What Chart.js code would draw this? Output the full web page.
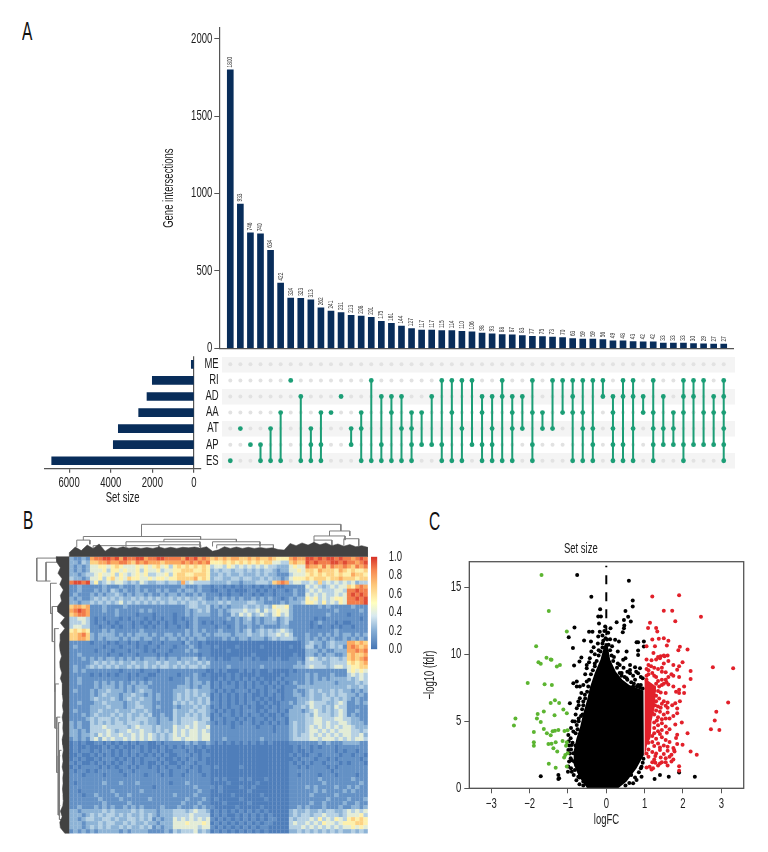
<!DOCTYPE html>
<html>
<head>
<meta charset="utf-8">
<title>Gene intersections</title>
<script src="https://cdn.jsdelivr.net/npm/chart.js@4/dist/chart.umd.js"></script>
<style>
  html, body { margin: 0; padding: 0; background: #fff; }
  body { position: relative; width: 768px; height: 852px; overflow: hidden; }
  canvas { position: absolute; display: block; }
  .panel { position: absolute; font: 25px "Liberation Sans", sans-serif; color: #111; line-height: 1; transform: scaleX(.62); transform-origin: left top; }
</style>
</head>
<body>
<div class="panel" style="left:22px;top:19px">A</div>
<div class="panel" style="left:22.5px;top:508px">B</div>
<div class="panel" style="left:429px;top:509px">C</div>

<canvas id="barChart" width="600" height="340" style="left:150px;top:20px"></canvas>
<canvas id="matrixChart" width="600" height="122" style="left:150px;top:350px"></canvas>
<canvas id="setChart" width="175" height="160" style="left:30px;top:350px"></canvas>
<canvas id="heatChart" width="338" height="314" style="left:30px;top:520px"></canvas>
<canvas id="keyChart" width="40" height="112" style="left:371px;top:551px"></canvas>
<canvas id="volcanoChart" width="342" height="300" style="left:418px;top:535px"></canvas>

<script>
// ─── Data: upset plot ─────────────────────────────────────

const intersectionCounts = [1800, 933, 746, 740, 634, 422, 324, 323, 313, 262, 241, 231, 213, 208, 201, 175, 161, 144, 127, 117, 117, 115, 114, 110, 106,
  98, 93, 88, 87, 83, 77, 75, 73, 70, 63, 59, 59, 56, 49, 48, 43, 42, 42, 33, 33, 33, 30, 29, 27, 27];
const countTicks = [0, 500, 1000, 1500, 2000];
const rowNames = ['ME', 'RI', 'AD', 'AA', 'AT', 'AP', 'ES'];
const setSizes = [130, 2003, 2258, 2658, 3636, 3877, 6836];
const setTicks = [0, 2000, 4000, 6000];
const intersectionSets = [
  ['ES'], ['AT'], ['AP'], ['AP', 'ES'], ['AT', 'ES'], ['AA', 'ES'], ['RI'], ['AD', 'ES'], ['AT', 'AP', 'ES'], ['AA', 'AP', 'ES'],
  ['AA'], ['AD'], ['AT', 'AP'], ['AA', 'AT', 'ES'], ['RI', 'ES'], ['AD', 'AP', 'ES'], ['AD', 'AA', 'ES'], ['AD', 'AT', 'ES'], ['AA', 'AT', 'AP', 'ES'], ['AA', 'AP'],
  ['AD', 'AP'], ['RI', 'AP', 'ES'], ['RI', 'AA', 'ES'], ['RI', 'AT', 'ES'], ['RI', 'AP'], ['AD', 'AA', 'AP', 'ES'], ['AD', 'AT', 'AP', 'ES'], ['RI', 'AD', 'ES'], ['AD', 'AA', 'AT', 'ES'], ['AD', 'AT'],
  ['RI', 'AA', 'AP', 'ES'], ['AA', 'AT'], ['RI', 'AT'], ['RI', 'AA'], ['RI', 'AD', 'AA', 'ES'], ['RI', 'AA', 'AT', 'ES'], ['RI', 'AT', 'AP', 'ES'], ['RI', 'AD'], ['AD', 'AA', 'AT', 'AP', 'ES'], ['RI', 'AD', 'AP', 'ES'],
  ['RI', 'AD', 'AT', 'ES'], ['AD', 'AA'], ['RI', 'AA', 'AT', 'AP', 'ES'], ['AD', 'AT', 'AP'], ['AA', 'AT', 'AP'], ['RI', 'AD', 'AA', 'AP', 'ES'], ['RI', 'AD', 'AP'], ['RI', 'AA', 'AP'], ['AD', 'AA', 'AP'], ['RI', 'AD', 'AA', 'AT', 'AP', 'ES']
];

// ─── Data: heatmap (one digit per cell, tenths of the 0-1 scale) ──

const heatRows = [
  '21121 788998979889978 89988 887989787 676767766767667 6555 7877 9989899898 87898',
  '22132 667787788768787 77677 778787878 555656565656566 4433 6766 9898889989 88789',
  '21212 445545654445454 56453 565656565 344354343434343 3222 4544 8776868778 76878',
  '21212 444535545445354 45344 556665565 232332332323233 2122 4454 6657666576 56556',
  '22123 345445354345453 34453 566556665 223232232223232 2111 3444 5656566565 57665',
  '32212 445356454655445 45545 566667565 233223323322323 2212 4555 6566656676 66566',
  '89989 352343443232432 23323 327343333 222232212223332 6787 3443 3436343434 34233',
  '11211 111211121112111 11111 112111211 011010101101010 1001 1111 4343234344 65787',
  '11211 121213212112121 12121 121221211 001101000110101 0110 1211 3434333443 88988',
  '12111 212122321212212 11212 212112121 110101101101011 0111 1211 4343433434 89898',
  '21211 232323232232323 23223 232322321 121212121121212 1101 2122 5453434554 88989',
  '22122 323232342323232 32323 323233232 223232222332211 1121 2223 5543534354 88889',
  '67767 111211112111111 11111 111233223 121212223223232 5445 2111 1112121111 12111',
  '78987 111211211111212 11111 111212323 112123334334243 4544 2111 1111111211 11121',
  '67887 111111211110111 01111 011212222 112113243423432 4534 2111 1111121111 01111',
  '33443 101011101011101 01011 010112111 111121212312122 3123 2111 1101011111 11101',
  '33343 101101011101010 10101 011012101 011011212212122 2123 1111 1012111010 01111',
  '34433 110110101101101 01101 101012111 101101211211211 1122 1111 1010110101 10111',
  '56565 111212111111211 11111 111212121 112111212312323 2343 2111 1111111211 11111',
  '66786 212222121212221 21122 121212212 122221222322323 3434 3111 2112121212 21212',
  '66776 212122212122122 11212 212121221 111212122122212 3233 3211 2121212112 12121',
  '11111 011101011010110 11011 110211010 000000000000000 0000 0001 2322123222 77676',
  '12111 111011101110101 10111 011121011 010000100000100 0000 1001 3312123231 78767',
  '11111 101110111011101 01110 111212111 000010000000000 0000 0000 2221211222 77878',
  '11211 111101101110111 10101 111111011 000000000010000 0000 0100 2212122112 67667',
  '11121 212122121212122 21212 212223121 101001101101001 0100 1110 3432323323 67678',
  '11111 232323232232232 23232 232322323 111111111111111 1111 1121 3333223333 56567',
  '12112 323232322323232 32332 323233232 111121111111211 1111 1222 3433323443 45566',
  '12121 111111101111011 10111 111111110 010100010101001 0000 1011 1111111111 45454',
  '11111 010101011010110 01111 101112101 000010100001000 0010 1111 2121112111 34343',
  '11211 111111111011101 11110 111212111 001010101010100 0101 1111 2121212222 32343',
  '11211 121212121121212 11111 111212212 010101010101010 1010 1211 2122222122 22323',
  '11111 121222121212221 11111 122212122 010111010101101 0101 1122 2222222222 32232',
  '12111 212232221212322 11111 222323222 101010111010101 1001 1211 2323223232 21212',
  '11111 212322212232212 12111 232323232 010101010100101 0101 1221 2322323233 22121',
  '11111 232223212322322 12111 232322323 010101010101010 0101 1122 2322332323 21211',
  '11211 122322221223222 11111 323232323 110101010110101 0011 2122 3433322343 11212',
  '11111 222232221223322 12111 212223232 010101101010010 1011 1223 2433232433 11111',
  '12111 223222322232232 11111 322232332 101010101110101 1010 2221 2343232343 11211',
  '11121 232223232322323 11211 322323232 010110101011010 0101 2222 3243332343 12111',
  '11112 323332322323332 21221 323333233 011011010101101 0110 2222 3344333443 32211',
  '21211 323232332333232 21222 323334332 101010101101010 1010 2322 3344343344 32221',
  '21211 333433333234333 23222 433434334 111110111110111 0111 2322 3434343434 43222',
  '22121 333343233433433 23232 434344343 111111111111111 0111 2322 3443434344 43323',
  '22122 324343343343434 32323 434344344 111111111111111 1111 2323 3434343434 43342',
  '12121 342434334343434 32323 443444344 111211111111211 1111 2333 3443444343 43443',
  '01010 011010101010110 01011 111212112 101010101010101 0000 1111 1112121112 22211',
  '01001 000101010001010 00101 010110101 000000000000000 0000 0101 1010111011 11111',
  '01011 010110101011010 10100 111010010 000000000000000 0000 0100 1011111010 11011',
  '00100 101010101010101 01010 011101011 000000000000000 0000 1010 0110111101 10110',
  '01010 010111010101011 10100 101011010 000000000000000 0000 0101 1101101011 11101',
  '10100 101010101101010 01010 010110110 000000000000000 0000 1010 1011011101 01110',
  '01011 110101011010110 10101 101101011 010000010000000 0000 1101 0111101011 11111',
  '10110 101111101101111 10110 111011011 000000000000000 0000 1111 1111110111 11111',
  '11101 111011110111101 11010 110111101 000000000000000 0000 1101 1110111011 11011',
  '11111 111111111111111 11111 111111111 010100010100010 0000 1111 1112111111 12111',
  '10111 111211121112111 11110 111211111 000010000001000 0000 1111 1111211111 11121',
  '11111 111111111111111 01111 111112111 101000010010000 0000 1111 2121111211 21211',
  '11011 111112111111211 11111 111111211 001000000100000 0000 1111 1121211112 12111',
  '11101 121111211211111 11111 211112111 000001000000100 0000 1111 1211111211 11111',
  '11111 112111121111112 11111 111211121 010000010000010 0000 1111 1111121111 21112',
  '11111 111211111211111 11111 112111211 000100000100000 0000 1111 1211211112 11211',
  '11211 121212112121211 11211 121112121 100000100000100 0000 1121 2111211121 12212',
  '22122 222323222232322 21222 333234332 010101010101010 0000 2322 3223233223 43434',
  '22212 323233232322323 21222 333343333 010100101010101 0000 2323 3233433323 44453',
  '22123 322332322332323 12122 434343434 101010101010101 1000 3233 3435343543 56565',
  '22212 223233223232232 21222 444544454 010101010101011 0000 3433 4343544345 55665',
  '22212 323232232322323 12122 444444344 101010101010110 0000 3334 3434343434 45454',
  '12121 212222212122221 11121 323334232 010101010101010 0000 2232 3232323232 23232'
];
const heatPalette = ['#4f7eba', '#6491c5', '#8db3d6', '#b5d0e3', '#e3ecd6', '#fdf0ac', '#fdd283', '#fbaa61', '#f27d4b', '#df4c35'];
const keyTicks = [0, 0.2, 0.4, 0.6, 0.8, 1];
const keyRange = [0, 1];
const keyStops = [[0, '#4575b4'], [0.2, '#86aed5'], [0.36, '#d8e9f0'], [0.5, '#ffffbf'], [0.7, '#fdc679'], [0.85, '#f78a53'], [1, '#d73027']];

// dendrogram merges: [from, to, height, height of first child, height of second child]
const topMerges = [
  [24.2, 91, 11.7, 7.3, 9.3], [4.7, 44, 7.3, 6, 6.3], [2.5, 6.9, 6, 3.5, 4.5], [31.7, 56, 6.3, 5.4, 5.4],
  [19, 43.8, 5.4, 3.5, 3.5], [8, 30, 4, 2.5, 2.5], [30, 44, 4.3, 2.5, 2.5], [48, 63.9, 5.4, 3.7, 3.7],
  [49.4, 68.4, 4.3, 3, 3], [87.2, 94, 9.3, 7.5, 7.5], [82, 92.4, 7.5, 6, 6], [82, 88, 6, 3.5, 3.5], [92, 97, 6.5, 4, 4]
];
const leftMerges = [
  [0.5, 8.8, 10.9, 4.2, 7.8], [2, 8.8, 7.8, 4.2, 6.3], [9.6, 20.5, 6.3, 4.2, 5.7], [18, 30.7, 5.7, 4, 5],
  [26, 48.8, 5, 3.5, 4.8], [46, 62, 4.8, 3.5, 4], [58, 78, 4.2, 3, 3.5], [72, 93.4, 3.7, 3, 3],
  [60, 90, 3.6, 3, 3], [70, 95, 3.3, 2.6, 2.6]
];
const topBandEdge = [1.5, 3.5, 2.2, 4.2, 3, 4.6, 2, 3.4, 3, 3.6, 3.1, 3.4, 3, 3.3, 3, 3.5, 3, 3.4, 3, 3.4, 3.2, 3.5, 3.1, 3.6, 2, 2.5, 3.6, 3, 3.5, 3, 3.4, 3, 3.3, 3, 3.2, 2.6, 2.4, 4.8, 4, 5, 4.2, 5.2, 4.3, 5, 4, 4.6, 3.8, 4.4, 3.6, 4, 3.4];
const leftBandEdge = [4.4, 4.2, 3, 3.8, 2.4, 3.2, 2, 3, 2.6, 4, 3.8, 1.5, 3, 1.5, 3, 3, 3.3, 3.1, 2.6, 3.2, 3.1, 2.5, 3, 2.3, 2.2, 2.4, 2.1, 2.3, 2, 2.4, 2.1, 2.2, 2, 2.4, 2.2, 2, 2.3, 2.1, 2.4, 2, 2.2, 2.1, 2.3, 2.1, 2, 2.2, 3, 2.4, 3.2, 3, 1.5];

// ─── Data: volcano plot ───────────────────────────────────

const volcanoXTicks = [-3, -2, -1, 0, 1, 2, 3];
const volcanoYTicks = [0, 5, 10, 15];
const greenPoints = [[-1.69,15.9],[-1.5,13.23],[-1.03,11.69],[-1.83,10.6],[-1.56,9.73],[-1.45,9.6],[-1.77,9.4],[-1.71,9.28],[-1.43,9.58],[-1.21,9.2],[-1.29,9.08],[-2.05,7.86],[-1.61,7.76],[-1.42,7.71],[-1.34,6.57],[-1.45,6.37],[-1.23,6.37],[-1.12,5.87],[-1.03,5.6],[-1.63,5.72],[-1.35,5.45],[-1.79,5.55],[-2.37,5.2],[-1.81,5.2],[-1.71,4.95],[-2.41,4.68],[-1.89,4.2],[-1.63,4.43],[-1.55,4.1],[-1.4,4.25],[-1.34,4.3],[-1.25,4.35],[-1.09,4.28],[-1.01,4.33],[-1.45,3.96],[-1.14,3.53],[-1.03,3.43],[-1.05,3.18],[-1.89,3.43],[-1.89,3.18],[-1.51,3.31],[-1.43,3.33],[-1.32,3.43],[-1.38,2.99],[-1.28,2.74],[-1.01,2.61],[-1.07,2.49],[-1.1,2.29],[-1.5,1.84],[-1.32,1.54],[-1.03,1.62]];
const redPoints = [[1.2,14.3],[1.9,14.4],[1.5,13.25],[1.72,13.25],[2.47,12.8],[1.8,12.45],[1.14,12.35],[1.09,11.95],[1.3,11.95],[1.33,11.7],[1.2,11.1],[1.37,11.15],[1.5,11.2],[1.62,11],[1.05,10.6],[1.27,10.6],[1.58,10.65],[1.92,10.55],[1.88,10.3],[2.12,10.35],[1.23,10.1],[1.42,9.85],[1.35,9.8],[1.5,9.9],[1.52,9.85],[1.05,9.6],[1.3,9.6],[1.62,9.5],[1.99,9.4],[1.9,9.1],[1.1,9.2],[1.17,9.1],[1.45,9],[2.78,9.02],[3.31,8.95],[1.1,8.8],[1.2,8.6],[1.45,8.7],[1.85,8.85],[2.2,8.75],[1.05,8.4],[1.7,8.5],[1.3,8.3],[1.75,8.4],[1.9,8.3],[2.2,8.15],[1.05,8.1],[1.55,8.1],
  [1.3,7.8],[1.38,7.6],[1.45,7.7],[1.5,7.8],[1.57,7.9],[1.62,7.75],[1.75,7.6],[1.82,7.2],[1.9,7.1],[2.03,7.6],[2.03,7.1],[1.9,7.35],[1.25,7.3],[1.35,7.25],[1.42,7.15],[1.55,7.1],
  [1.3,6.9],[1.38,6.7],[1.5,6.5],[1.6,6.4],[1.72,6.2],[1.8,6.35],[1.92,6.5],[1.45,6.3],[1.55,6.15],[1.35,6.1],[1.3,6.5],[1.42,6],[1.6,6],[1.85,5.95],[3.18,6.4],[1.2,6.7],[1.27,6.2],
  [1.3,5.8],[1.4,5.7],[1.5,5.5],[1.6,5.65],[1.75,5.4],[1.85,5.6],[1.25,5.5],[1.35,5.3],[1.45,5.15],[1.55,5.2],[1.65,5.2],[1.97,4.9],[2.87,5.7],[2.83,5.05],[1.32,5.05],[1.2,5.6],
  [1.25,4.9],[1.35,4.7],[1.45,4.85],[1.55,4.6],[1.65,4.4],[1.8,4.75],[1.25,4.5],[1.35,4.25],[1.45,4.35],[1.58,4.15],[1.25,4.1],[1.4,4.05],[1.85,4],[2.12,4.1],[2.73,4.4],[2.95,4.35],
  [1.2,3.9],[1.3,3.7],[1.45,3.8],[1.55,3.6],[1.65,3.45],[1.82,3.75],[1.2,3.45],[1.35,3.35],[1.5,3.2],[1.6,3.1],[1.75,3],[1.85,3.3],[1.99,3.25],[1.25,3.15],[1.4,3.05],[1.1,3.4],
  [1.1,2.9],[1.2,2.7],[1.3,2.6],[1.4,2.85],[1.5,2.55],[1.6,2.8],[1.7,2.5],[1.77,2.85],[1.78,2.75],[2.2,2.75],[2.36,2.5],[1.28,2.4],[1.42,2.3],[1.55,2.25],[1.65,2.35],[1.75,2.15],[1.05,2.6],[1.25,2.15],[1.1,2.35],
  [1.2,1.95],[1.28,1.9],[1.4,1.85],[1.55,1.95],[1.6,1.7],[1.7,2],[1.9,1.65],[1.9,1.3],[1.05,1.55],[1.13,1.6],[1.18,1.4],[1.22,1.5],[1.35,1.7],[1.45,1.95],
  [1.25,9],[1.35,8.9],[1.55,8.65],[1.62,8.3],[1.45,8.1],[1.35,8],[1.25,8.4],[1.5,9.3],[1.18,9.55],[1.4,9.7],[1.6,9.9],[1.75,9.2],[1.1,8.5],[1.05,8.9]];
const blackPoints = [[-.76,15.9],[.59,15.47],[-.39,14.28],[.69,14],[.69,13.56],[-.16,13.36],[.5,13.23],[-.21,12.81],[-.14,12.81],[.57,12.79],[.46,12.56],[.64,12.44],[-.19,12.29],[.27,12.39],[.47,12.14],[.46,11.94],[-.83,11.99],[-.03,12.06],[.11,11.94],[-.05,11.74],[-.45,11.67],[-.36,11.67],[-.17,11.67],[.43,11.64],[-.98,11.27],[-.21,11.32],[-.58,11.02],[-.4,10.95],[.1,11.12],[.23,11.07],[.33,10.95],[.79,10.9],[.83,10.9],[.98,10.95],[-.87,10.47],[-.33,10.52],[.53,10.2],[.83,10.27],[.98,10.57],[-.65,9.75],[-.39,10.2],[-.43,9.7],[.5,9.7],[.44,9.58],[.83,9.95],[-.7,9.45],[-.51,9.2],[.62,9.2],[.75,9.03],[.88,8.96],[-.84,9.15],[-.51,8.96],[.62,8.83],[-.77,7.96],[-.86,7.84],[-.69,7.59],[-.77,7.59],[.53,8.2],[.62,8.58],[.83,8.58],[-.51,7.96],[-.56,6.97],[-.69,6.72],[-.73,6.47],[-.95,6.34],[-.77,5.97],[-.6,6.47],[.7,7.59],[.83,7.71],[-.82,4.98],[-.77,4.73],[-.86,4.23],[-.99,3.98],[-.93,3.73],[-.98,3.5],[-.9,3.23],[-.99,2.86],[-.86,2.61],[-.93,2.24],[-.99,1.62],[-.9,1.24],[-.82,1.37],[-1,1.24],[-1.71,.9],[-1.25,1],[-1.25,.7],[-1.23,.75],[-.73,.87],[-.6,.5],[.92,.87],[.79,.62],[.7,.37],[1.26,.7],[1.4,1],[1.63,.87],[1.9,1.17],[2.31,.87],
  [-.62,5.5],[-.72,5.2],[-.8,3.2],[-.84,2],[-.78,1.7],[-.7,.8],[.4,8.6],[.3,9.3],[.2,9.8],[-.3,9.3],[-.2,10.3],[-.1,10.8],[.9,7.7],[.95,8.2],[.75,8.1],[.95,1.9],[.9,1.5],[.65,1],
  [-.9,2.1],[-.92,2.9],[-.88,3.4],[-.8,4.1],[-.75,4.4],[-.72,5],[-.66,5.4],[-.63,5.9],[-.6,6.2],[-.55,6.7],[-.5,7.2],[-.47,7.6],[-.45,8.1],[-.4,8.5],[-.35,8.8],[-.3,9.1],[-.25,9.5],[-.2,9.9],[-.15,10.2],[-.1,10.5],[-.08,11],[-.02,11.2],[.02,11.1],[.06,10.7],[.1,10.3],[.14,9.9],[.18,9.5],[.28,9],[.35,8.6],[.4,8.4],[.48,8.3],[.55,8.1],[.65,7.9],[.72,7.8],[.8,7.6],[.88,7.5],[.95,7.45],[.35,9.2],[.45,9],[.55,8.7],[.7,8.4],[.78,8.7],[.9,8.3],[.15,10.6],[.3,10.2],[.05,11.6],[-.1,11.4],[-.22,10.8],[-.3,10],[-.45,9.4],[-.55,8.5],[-.6,7.7],[-.65,7.1],[-.72,6.2],[-.8,5.5],[-.88,5],[-.92,4.5],[-.97,3.2],[-.95,2.6],[-.97,2],[-.92,1.5],[-.85,1],[-.78,.6],[-.7,.3],[-.6,.2],[.75,.8],[.85,1.2],[.92,1.6],[.97,2.2],[.6,.4],[.5,.2]];
const blackCoreOutline = [[-.5,0],[-.72,.9],[-.85,1.8],[-.85,2.8],[-.78,3.7],[-.68,4.6],[-.6,5.6],[-.5,6.6],[-.42,7.6],[-.3,8.6],[-.15,9.6],[-.04,10.8],[.03,10.8],[.1,9.6],[.25,8.7],[.42,8.1],[.6,7.7],[.97,7.3],[.98,4.98],[.98,2.49],[.79,1.49],[.53,.5],[.31,0]];
const redCoreOutline = [[1,2.3],[1.06,3.2],[1.16,3.8],[1.18,5],[1.26,6],[1.3,7.6],[1.1,8],[1,8.1]];

// ─── Shared styling ───────────────────────────────────────

const FONT = '"Liberation Sans", sans-serif';
const AXIS = '#555';
const NAVY = '#082d5a';
const GREEN = '#1c9e76';
const INK = '#1c1c1c';
const NARROW = 0.68; // the source uses a condensed face, none is installed

Chart.defaults.font.family = FONT;
Chart.defaults.font.size = 14;
Chart.defaults.color = INK;
Chart.defaults.animation = false;
Chart.defaults.responsive = false;
Chart.defaults.events = [];
Chart.defaults.layout.autoPadding = false;
Chart.defaults.plugins.legend.display = false;
Chart.defaults.plugins.tooltip.enabled = false;

// squeeze every text a chart draws on this canvas
function narrowCanvas(id) {
  const canvas = document.getElementById(id);
  const ctx = canvas.getContext('2d');
  const fill = ctx.fillText.bind(ctx);
  const measure = ctx.measureText.bind(ctx);
  ctx.fillText = (text, x, y) => {
    ctx.save();
    ctx.translate(x, y);
    ctx.scale(NARROW, 1);
    fill(text, 0, 0);
    ctx.restore();
  };
  ctx.measureText = text => ({ width: measure(text).width * NARROW });
  return canvas;
}

const toXY = p => ({ x: p[0], y: p[1] });
const useTicks = list => scale => { scale.ticks = list.map(v => ({ value: v })); };
const plainLabel = v => String(v);
// fix a vertical axis to a width and stop its labels pushing the plot in
const fitWidth = w => s => { s.width = w; s.paddingTop = 0; s.paddingBottom = 0; };

// ─── Intersection bars ────────────────────────────────────

const barLabels = {
  id: 'barLabels',
  afterDatasetsDraw(chart) {
    const { ctx, scales } = chart;
    ctx.save();
    ctx.font = '7px ' + FONT;
    ctx.fillStyle = '#333';
    ctx.textAlign = 'left';
    ctx.textBaseline = 'middle';
    intersectionCounts.forEach((v, i) => {
      ctx.save();
      ctx.translate(scales.x.getPixelForValue(i), scales.y.getPixelForValue(v) - 2.5);
      ctx.rotate(-Math.PI / 2);
      ctx.fillText(v, 0, 0);
      ctx.restore();
    });
    ctx.restore();
  }
};

new Chart(narrowCanvas('barChart'), {
  type: 'bar',
  data: {
    datasets: [{
      data: intersectionCounts.map((v, i) => ({ x: i, y: v })),
      backgroundColor: NAVY,
      barThickness: 6
    }]
  },
  options: {
    layout: { padding: { top: 8, right: 16.5, bottom: 11.7 } },
    scales: {
      x: {
        type: 'linear', min: -1.09, max: 49.97, offset: false,
        ticks: { display: false },
        grid: { display: false, offset: false },
        border: { color: AXIS, width: 1.2 },
        afterFit(s) { s.height = 0; }
      },
      y: {
        min: 0, max: 2071,
        afterBuildTicks: useTicks(countTicks),
        ticks: { autoSkip: false, padding: 2, callback: plainLabel },
        grid: { drawOnChartArea: false, tickLength: 5, tickColor: AXIS },
        border: { color: AXIS, width: 1.2 },
        title: { display: true, text: 'Gene intersections', padding: { top: 11, bottom: 0 } },
        afterFit: fitWidth(69.3)
      }
    }
  },
  plugins: [barLabels]
});

// ─── Membership matrix ────────────────────────────────────

const inactiveDots = [];
const activeDots = [];
intersectionSets.forEach((sets, i) => {
  rowNames.forEach(name => {
    (sets.includes(name) ? activeDots : inactiveDots).push({ x: i, y: name });
  });
});

new Chart(narrowCanvas('matrixChart'), {
  type: 'scatter',
  data: {
    datasets: [
      { data: activeDots, backgroundColor: GREEN, pointRadius: 2.4, borderWidth: 0 },
      ...intersectionSets.filter(sets => sets.length > 1).map(sets => ({
        data: rowNames.filter(name => sets.includes(name))
          .filter((name, k, all) => k === 0 || k === all.length - 1)
          .map(name => ({ x: intersectionSets.indexOf(sets), y: name })),
        showLine: true,
        borderColor: GREEN,
        borderWidth: 2,
        pointRadius: 0
      })),
      { data: inactiveDots, backgroundColor: '#e2e2e2', pointRadius: 2, borderWidth: 0 }
    ]
  },
  options: {
    layout: { padding: { top: 6.3, right: 15, bottom: 3.2 } },
    scales: {
      x: {
        type: 'linear', min: -0.854, max: 50.12,
        display: false
      },
      y: {
        type: 'category', labels: rowNames, offset: true,
        ticks: { autoSkip: false, padding: 3 },
        grid: {
          offset: false,
          lineWidth: 15.4,
          color: ctx => (ctx.index % 2 === 0 ? '#f4f4f4' : 'rgba(0,0,0,0)'),
          drawTicks: false
        },
        border: { display: false },
        afterFit: fitWidth(71.7)
      }
    }
  }
});

// ─── Set size bars ────────────────────────────────────────

new Chart(narrowCanvas('setChart'), {
  type: 'bar',
  data: {
    labels: rowNames,
    datasets: [{ data: setSizes, backgroundColor: NAVY, barThickness: 8 }]
  },
  options: {
    indexAxis: 'y',
    layout: { padding: { left: 14.3, top: 6.3, right: 4 } },
    scales: {
      x: {
        reverse: true, min: -336, max: 7192,
        afterBuildTicks: useTicks(setTicks),
        ticks: { autoSkip: false, maxRotation: 0, padding: 2, callback: plainLabel },
        grid: {
          color: ctx => (ctx.tick && ctx.tick.value === 0 ? AXIS : 'rgba(0,0,0,0)'),
          tickColor: AXIS,
          tickLength: 4,
          lineWidth: 1.2
        },
        border: { color: AXIS, width: 1.2 },
        title: { display: true, text: 'Set size', padding: { top: 0, bottom: 3 } },
        afterFit(s) { s.height = 41.2; s.paddingLeft = 0; s.paddingRight = 0; }
      },
      y: {
        ticks: { display: false },
        grid: { display: false },
        border: { display: false },
        afterFit(s) { s.width = 0; }
      }
    }
  }
});

// ─── Heatmap with dendrograms ─────────────────────────────

const cells = heatRows.map(r => r.replace(/ /g, ''));
const heatPoints = [];
cells.forEach((row, r) => {
  [...row].forEach((d, c) => {
    heatPoints.push({ x: (c + 0.5) / row.length * 100, y: (r + 0.5) / cells.length * 100, v: +d });
  });
});

const topLines = topMerges.flatMap(([a, b, h, ha, hb]) => [
  { x: a, y: -ha }, { x: a, y: -h }, { x: b, y: -h }, { x: b, y: -hb }, { x: null, y: null }
]);
const leftLines = leftMerges.flatMap(([a, b, h, ha, hb]) => [
  { x: -ha, y: a }, { x: -h, y: a }, { x: -h, y: b }, { x: -hb, y: b }, { x: null, y: null }
]);
const topBand = [{ x: 0, y: 0 }, ...topBandEdge.map((h, i) => ({ x: i * 2, y: -h })), { x: 100, y: 0 }];
const leftBand = [{ x: 0, y: 0 }, ...leftBandEdge.map((d, i) => ({ x: -d, y: i * 2 })), { x: 0, y: 100 }];
const bandStyle = { showLine: true, fill: 'shape', backgroundColor: '#424242', borderColor: '#424242', borderWidth: 0.5, pointRadius: 0 };
const lineStyle = { showLine: true, spanGaps: false, borderColor: '#7d7d7d', borderWidth: 1, pointRadius: 0 };

new Chart(document.getElementById('heatChart'), {
  type: 'scatter',
  data: {
    datasets: [
      { data: topBand, ...bandStyle },
      { data: leftBand, ...bandStyle },
      { data: topLines, ...lineStyle },
      { data: leftLines, ...lineStyle },
      {
        data: heatPoints,
        pointStyle: 'rect',
        pointRadius: 3.05,
        borderWidth: 0,
        backgroundColor: ctx => heatPalette[ctx.raw ? ctx.raw.v : 0]
      }
    ]
  },
  options: {
    scales: {
      x: { type: 'linear', min: -13.17, max: 100.1, display: false },
      y: { type: 'linear', min: -13.27, max: 100.25, reverse: true, display: false }
    }
  }
});

// ─── Colour key ───────────────────────────────────────────

new Chart(narrowCanvas('keyChart'), {
  type: 'bar',
  data: {
    labels: ['key'],
    datasets: [{
      data: [keyRange],
      barPercentage: 1,
      categoryPercentage: 1,
      backgroundColor(ctx) {
        const area = ctx.chart.chartArea;
        if (!area) return '#4575b4';
        const g = ctx.chart.ctx.createLinearGradient(0, area.bottom, 0, area.top);
        keyStops.forEach(([at, col]) => g.addColorStop(at, col));
        return g;
      }
    }]
  },
  options: {
    layout: { padding: { top: 5.7, bottom: 13.7 } },
    scales: {
      x: { display: false },
      y: {
        position: 'right', min: 0, max: 1,
        afterBuildTicks: useTicks(keyTicks),
        ticks: { autoSkip: false, padding: 3.5, callback: v => v.toFixed(1) },
        grid: { display: false },
        border: { display: false },
        afterFit: fitWidth(33.7)
      }
    }
  }
});

// ─── Volcano plot ─────────────────────────────────────────

const frame = {
  id: 'frame',
  afterDraw(chart) {
    const { ctx, chartArea: a } = chart;
    ctx.save();
    ctx.strokeStyle = AXIS;
    ctx.lineWidth = 1.3;
    ctx.strokeRect(a.left, a.top, a.right - a.left, a.bottom - a.top);
    ctx.restore();
  }
};

const dotStyle = { pointRadius: 2, borderWidth: 0 };
const coreStyle = { showLine: true, fill: 'shape', borderWidth: 0, pointRadius: 0 };

new Chart(narrowCanvas('volcanoChart'), {
  type: 'scatter',
  data: {
    datasets: [
      { data: greenPoints.map(toXY), backgroundColor: '#5cb531', ...dotStyle },
      { data: redPoints.map(toXY), backgroundColor: '#e2202a', ...dotStyle },
      { data: redCoreOutline.map(toXY), backgroundColor: '#e2202a', ...coreStyle },
      { data: blackPoints.map(toXY), backgroundColor: '#000', ...dotStyle },
      { data: blackCoreOutline.map(toXY), backgroundColor: '#000', ...coreStyle },
      {
        data: [{ x: 0, y: 0 }, { x: 0, y: 16.6 }],
        showLine: true, borderColor: '#000', borderWidth: 2, borderDash: [9, 8], pointRadius: 0
      }
    ]
  },
  options: {
    layout: { padding: { right: 16.3 } },
    plugins: {
      title: { display: true, text: 'Set size', font: { size: 14, weight: 'normal' }, color: INK, padding: { top: 5.6, bottom: 4.3 } }
    },
    scales: {
      x: {
        type: 'linear', min: -3.574, max: 3.585,
        afterBuildTicks: useTicks(volcanoXTicks),
        ticks: { autoSkip: false, maxRotation: 0, padding: 2, callback: v => (v < 0 ? '−' + (-v) : v) },
        grid: { drawOnChartArea: false, tickLength: 5, tickColor: AXIS },
        border: { color: AXIS },
        title: { display: true, text: 'logFC', padding: { top: 0, bottom: 6 } },
        afterFit(s) { s.height = 46.7; }
      },
      y: {
        type: 'linear', min: 0, max: 16.9,
        afterBuildTicks: useTicks(volcanoYTicks),
        ticks: { autoSkip: false, padding: 3 },
        grid: { drawOnChartArea: false, tickLength: 5, tickColor: AXIS },
        border: { color: AXIS },
        title: { display: true, text: '−log10 (fdr)', padding: { top: 4, bottom: 0 } },
        afterFit: fitWidth(51.3)
      }
    }
  },
  plugins: [frame]
});
</script>
</body>
</html>
